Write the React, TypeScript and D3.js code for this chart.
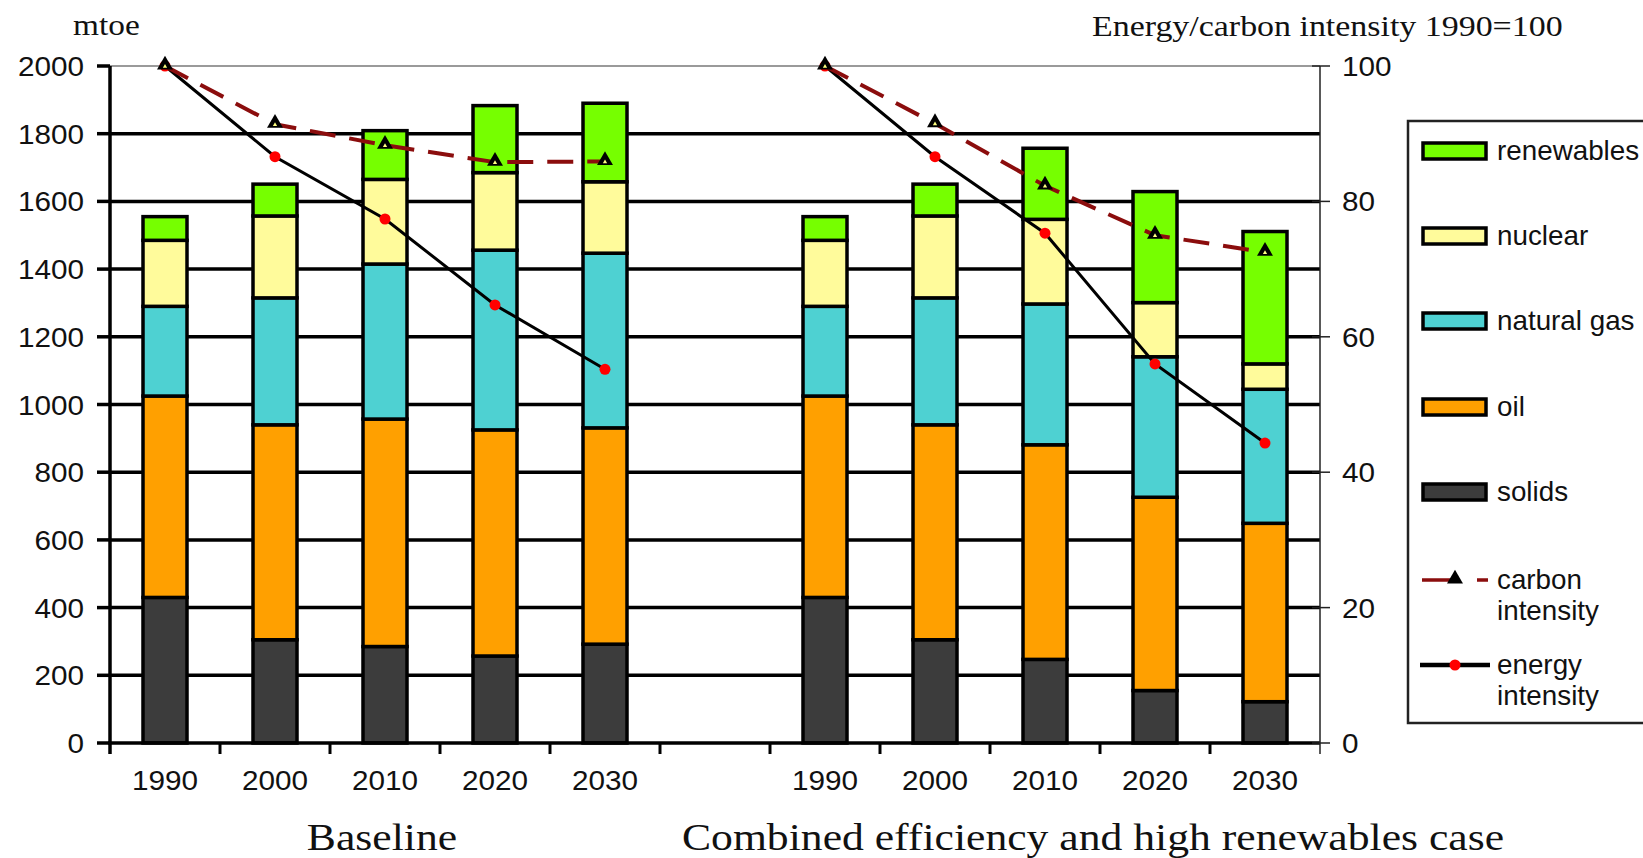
import * as d3 from "d3";

const years = ["1990", "2000", "2010", "2020", "2030"];
const baseSlots = years.map(y => "b" + y);
const combSlots = years.map(y => "c" + y);
const slots = [...baseSlots, "gap", ...combSlots];

const fuels = ["solids", "oil", "gas", "nuclear", "renewables"];
const fuelLabels = ["solids", "oil", "natural gas", "nuclear", "renewables"];
const fuelColors = ["#3c3c3c", "#ffa000", "#4ed1d2", "#fffb9b", "#76ff00"];

// mtoe, baseline scenario
const baseSolids = [430, 305, 285, 257, 292];
const baseOil = [595, 635, 672, 668, 639];
const baseGas = [265, 375, 458, 531, 516];
const baseNuclear = [195, 242, 250, 229, 211];
const baseRenew = [70, 94, 144, 198, 232];

// mtoe, combined efficiency and high renewables case
const combSolids = [430, 305, 247, 155, 122];
const combOil = [595, 635, 634, 571, 527];
const combGas = [265, 375, 416, 415, 396];
const combNuclear = [195, 242, 250, 160, 75];
const combRenew = [70, 94, 210, 328, 391];

// intensities, 1990 = 100
const baseEnergy = [100, 86.6, 77.4, 64.7, 55.2];
const baseCarbon = [100, 91.4, 88.3, 85.8, 85.9];
const combEnergy = [100, 86.6, 75.3, 56.0, 44.3];
const combCarbon = [100, 91.5, 82.3, 75.0, 72.5];

const leftTicks = [0, 200, 400, 600, 800, 1000, 1200, 1400, 1600, 1800, 2000];
const rightTicks = [0, 20, 40, 60, 80, 100];

const SANS = "'Liberation Sans', Arial, sans-serif";
const SERIF = "'Liberation Serif', 'Times New Roman', serif";

const T = ({ x, y, size, family = SANS, anchor = "start", sx = 1.1, children }: any) => (
  <text
    transform={`translate(${x},${y}) scale(${sx},1)`}
    fontSize={size}
    fontFamily={family}
    textAnchor={anchor}
    fill="#111"
  >
    {children}
  </text>
);

export default function App() {
  const left = 110, right = 1320, top = 66, bottom = 743;

  const x = d3.scaleBand<string>().domain(slots).range([left, right]).paddingInner(0.6).paddingOuter(0.3);
  const yL = d3.scaleLinear().domain([0, 2000]).range([bottom, top]);
  const yR = d3.scaleLinear().domain([0, 100]).range([bottom, top]);
  const cx = (s: string) => (x(s) as number) + x.bandwidth() / 2;

  const rows: any[] = [
    ...years.map((y, i) => ({ slot: baseSlots[i], solids: baseSolids[i], oil: baseOil[i], gas: baseGas[i], nuclear: baseNuclear[i], renewables: baseRenew[i] })),
    ...years.map((y, i) => ({ slot: combSlots[i], solids: combSolids[i], oil: combOil[i], gas: combGas[i], nuclear: combNuclear[i], renewables: combRenew[i] })),
  ];
  const stacked = d3.stack<any>().keys(fuels)(rows);

  const line = d3.line<[string, number]>().x(d => cx(d[0])).y(d => yR(d[1]));
  const zip = (s: string[], v: number[]) => s.map((k, i) => [k, v[i]] as [string, number]);
  const tri = d3.symbol().type(d3.symbolTriangle).size(110)() as string;
  const triIn = d3.symbol().type(d3.symbolTriangle).size(8)() as string;

  const energySets = [zip(baseSlots, baseEnergy), zip(combSlots, combEnergy)];
  const carbonSets = [zip(baseSlots, baseCarbon), zip(combSlots, combCarbon)];

  const bounds = d3.range(slots.length + 1).map(i => left + i * x.step());

  const legendRows = [4, 3, 2, 1, 0];
  const legendY = [151, 236, 321, 407, 492];

  return (
    <svg width={1643} height={858} style={{ position: "absolute", left: 0, top: 0, background: "#fff" }}>
      <rect width={1643} height={858} fill="#fff" />

      {/* grid */}
      {leftTicks.filter(v => v > 0).map(v => (
        <line key={v} x1={left} x2={right} y1={yL(v)} y2={yL(v)}
          stroke={v === 2000 ? "#9a9a9a" : "#000"} strokeWidth={v === 2000 ? 2 : 3.5} />
      ))}

      {/* bars */}
      {stacked.map((layer, li) => (
        <g key={layer.key}>
          {layer.map((d: any) => (
            <rect key={d.data.slot} x={x(d.data.slot)} width={x.bandwidth()}
              y={yL(d[1])} height={yL(d[0]) - yL(d[1])}
              fill={fuelColors[li]} stroke="#000" strokeWidth={3.5} />
          ))}
        </g>
      ))}

      {/* axes */}
      <line x1={left} x2={left} y1={top} y2={bottom + 11} stroke="#000" strokeWidth={3.5} />
      <line x1={left - 2} x2={right} y1={bottom} y2={bottom} stroke="#000" strokeWidth={3.5} />
      {bounds.slice(1, -1).map(b => (
        <line key={b} x1={b} x2={b} y1={bottom} y2={bottom + 11} stroke="#000" strokeWidth={3} />
      ))}
      <line x1={right} x2={right} y1={top} y2={bottom + 11} stroke="#222" strokeWidth={1.5} />
      {leftTicks.map(v => (
        <g key={v}>
          <line x1={left - 13} x2={left} y1={yL(v)} y2={yL(v)} stroke="#000" strokeWidth={3.5} />
          <T x={84} y={yL(v) + 10} size={27} anchor="end">{v}</T>
        </g>
      ))}
      {rightTicks.map(v => (
        <g key={v}>
          <line x1={right - 8} x2={right + 10} y1={yR(v)} y2={yR(v)} stroke="#222" strokeWidth={1.5} />
          <T x={1342} y={yR(v) + 10} size={27}>{v}</T>
        </g>
      ))}
      {[...baseSlots, ...combSlots].map((s, i) => (
        <T key={s} x={cx(s)} y={790} size={27} anchor="middle">{years[i % 5]}</T>
      ))}

      {/* intensity lines */}
      {energySets.map((pts, i) => (
        <g key={"e" + i}>
          <path d={line(pts) as string} fill="none" stroke="#000" strokeWidth={3} />
          {pts.map(p => <circle key={p[0]} cx={cx(p[0])} cy={yR(p[1])} r={5.5} fill="#ff0000" />)}
        </g>
      ))}
      {carbonSets.map((pts, i) => (
        <g key={"c" + i}>
          <path d={line(pts) as string} fill="none" stroke="#8b0d0d" strokeWidth={4} strokeDasharray="26 14" />
          {pts.map(p => (
            <g key={p[0]} transform={`translate(${cx(p[0])},${yR(p[1]) - 1})`}>
              <path d={tri} fill="#000" />
              <path d={triIn} fill="#ffff80" transform="translate(0,1.5)" />
            </g>
          ))}
        </g>
      ))}

      {/* titles */}
      <T x={73} y={35} size={29} family={SERIF} sx={1.15}>mtoe</T>
      <T x={1092} y={36} size={29} family={SERIF} sx={1.17}>Energy/carbon intensity 1990=100</T>
      <T x={382} y={850} size={37} family={SERIF} sx={1.18} anchor="middle">Baseline</T>
      <T x={1093} y={850} size={37} family={SERIF} sx={1.18} anchor="middle">Combined efficiency and high renewables case</T>

      {/* legend */}
      <rect x={1408} y={121} width={260} height={602} fill="#fff" stroke="#222" strokeWidth={2.5} />
      {legendRows.map((fi, i) => (
        <g key={fuels[fi]}>
          <rect x={1423} y={legendY[i] - 8} width={63} height={16} fill={fuelColors[fi]} stroke="#000" strokeWidth={3.5} />
          <T x={1497} y={legendY[i] + 9} size={27} sx={1.03}>{fuelLabels[fi]}</T>
        </g>
      ))}
      <line x1={1422} x2={1488} y1={580} y2={580} stroke="#8b0d0d" strokeWidth={3.5} strokeDasharray="33 22 11 100" />
      <g transform="translate(1455,579)">
        <path d={tri} fill="#000" />
      </g>
      <T x={1497} y={589} size={27} sx={1.03}>carbon</T>
      <T x={1497} y={620} size={27} sx={1.03}>intensity</T>
      <line x1={1420} x2={1490} y1={665} y2={665} stroke="#000" strokeWidth={4.5} />
      <circle cx={1455} cy={665} r={5.5} fill="#ff0000" />
      <T x={1497} y={674} size={27} sx={1.03}>energy</T>
      <T x={1497} y={705} size={27} sx={1.03}>intensity</T>
    </svg>
  );
}
